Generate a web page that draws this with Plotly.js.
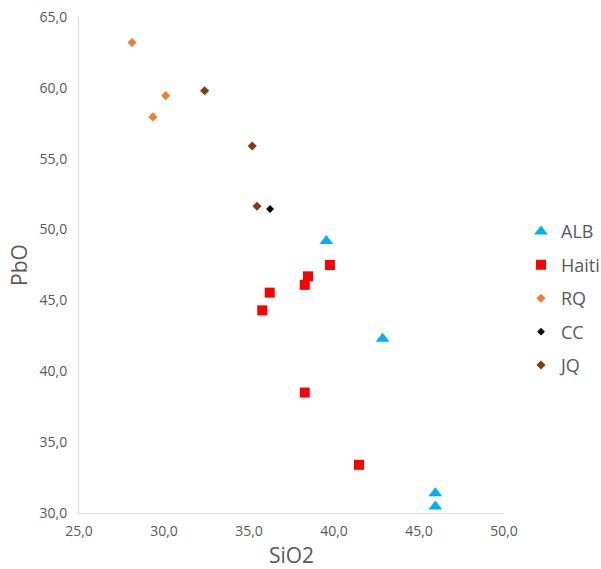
<!DOCTYPE html>
<html>
<head>
<meta charset="utf-8">
<script src="https://cdn.plot.ly/plotly-3.0.1.min.js"></script>
<style>html,body{margin:0;padding:0;background:#fff;}#chart{width:601px;height:569px;}</style>
</head>
<body>
<div id="chart"></div>
<script>
// Data (SiO2 vs PbO)
const albSiO2 = [39.55, 42.86, 45.96, 45.96];
const albPbO = [49.2, 42.3, 31.4, 30.45];
const haitiSiO2 = [39.76, 38.47, 38.28, 36.22, 35.78, 38.28, 41.47];
const haitiPbO = [47.5, 46.7, 46.1, 45.55, 44.3, 38.5, 33.4];
const rqSiO2 = [28.12, 29.35, 30.10];
const rqPbO = [63.2, 57.95, 59.45];
const ccSiO2 = [36.24];
const ccPbO = [51.45];
const jqSiO2 = [32.39, 35.19, 35.47];
const jqPbO = [59.8, 55.9, 51.65];
const seriesNames = ["ALB", "Haiti", "RQ", "CC", "JQ"];
const xTicks = [25, 30, 35, 40, 45, 50];
const yTicks = [30, 35, 40, 45, 50, 55, 60, 65];

const grey = "#595959";
const font = "Open Sans, Noto Sans, sans-serif";

const traces = [
  {x: albSiO2, y: albPbO, name: seriesNames[0], marker: {symbol: "triangle-up", size: 12, color: "#00B0F0"}},
  {x: haitiSiO2, y: haitiPbO, name: seriesNames[1], marker: {symbol: "square", size: 10, color: "#FF0000"}},
  {x: rqSiO2, y: rqPbO, name: seriesNames[2], marker: {symbol: "diamond", size: 7, color: "#ED7D31"}},
  {x: ccSiO2, y: ccPbO, name: seriesNames[3], marker: {symbol: "diamond", size: 6, color: "#000000"}},
  {x: jqSiO2, y: jqPbO, name: seriesNames[4], marker: {symbol: "diamond", size: 7, color: "#843C0C"}}
].map((t, i) => Object.assign(t, {type: "scatter", mode: "markers", legendgroup: "g" + i, cliponaxis: false}));

const layout = {
  width: 601, height: 569,
  margin: {l: 79, r: 97, t: 17, b: 56, autoexpand: false},
  paper_bgcolor: "#ffffff", plot_bgcolor: "#ffffff",
  separators: ",.",
  font: {family: font, color: grey, size: 14},
  showlegend: true,
  legend: {x: 1.04, y: 0.433, xanchor: "left", yanchor: "middle", traceorder: "grouped", tracegroupgap: 7,
           font: {size: 18, color: grey, family: font}, itemwidth: 30},
  xaxis: {range: [25, 50], tickvals: xTicks, tickformat: ".1f", showgrid: false, zeroline: false,
          showline: true, linecolor: "#d9d9d9", linewidth: 1, ticks: "", tickfont: {size: 14, color: grey},
          ticklabelstandoff: 5,
          title: {text: "SiO2", font: {size: 21, color: grey}, standoff: 13}},
  yaxis: {range: [30, 65], tickvals: yTicks, tickformat: ".1f", showgrid: false, zeroline: false,
          showline: true, linecolor: "#d9d9d9", linewidth: 1, ticks: "", tickfont: {size: 14, color: grey},
          ticklabelstandoff: 8,
          title: {text: "PbO", font: {size: 21, color: grey}, standoff: 6}}
};

Plotly.newPlot("chart", traces, layout, {staticPlot: true, displayModeBar: false});
</script>
</body>
</html>
